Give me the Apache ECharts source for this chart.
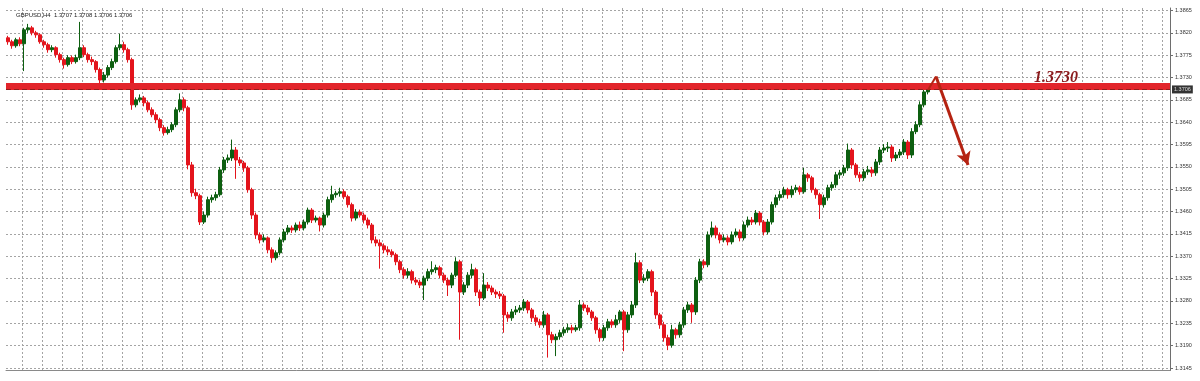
<!DOCTYPE html>
<html><head><meta charset="utf-8">
<script src="https://cdn.jsdelivr.net/npm/echarts@6/dist/echarts.min.js"></script>
<style>html,body{margin:0;padding:0;background:#fff}#chart{width:1200px;height:381px}</style>
</head><body><div id="chart"></div>
<script>
const header = 'GBPUSD,H4  1.3707 1.3708 1.3706 1.3706';
const priceTicks = [1.3145,1.3190,1.3235,1.3280,1.3325,1.3370,1.3415,1.3460,1.3505,1.3550,1.3595,1.3640,1.3685,1.3730,1.3775,1.3820,1.3865];
const opens = [1.3810,1.3802,1.3794,1.3806,1.3798,1.3826,1.3830,1.3820,1.3816,1.3802,
1.3796,1.3786,1.3790,1.3776,1.3766,1.3756,1.3770,1.3762,1.3770,1.3790,
1.3776,1.3766,1.3762,1.3746,1.3725,1.3735,1.3750,1.3762,1.3790,1.3796,
1.3786,1.3766,1.3675,1.3685,1.3689,1.3679,1.3665,1.3655,1.3645,1.3629,
1.3619,1.3625,1.3635,1.3665,1.3685,1.3669,1.3554,1.3498,1.3492,1.3439,
1.3453,1.3484,1.3488,1.3494,1.3544,1.3564,1.3568,1.3584,1.3564,1.3558,
1.3548,1.3504,1.3453,1.3413,1.3403,1.3407,1.3383,1.3367,1.3377,1.3403,
1.3419,1.3427,1.3423,1.3433,1.3427,1.3439,1.3463,1.3443,1.3447,1.3433,
1.3453,1.3484,1.3494,1.3497,1.3500,1.3490,1.3474,1.3447,1.3459,1.3453,
1.3443,1.3433,1.3403,1.3397,1.3391,1.3383,1.3379,1.3373,1.3359,1.3343,
1.3332,1.3339,1.3322,1.3318,1.3312,1.3326,1.3339,1.3343,1.3347,1.3332,
1.3322,1.3312,1.3332,1.3359,1.3298,1.3312,1.3332,1.3343,1.3298,1.3286,
1.3312,1.3306,1.3298,1.3294,1.3290,1.3252,1.3246,1.3258,1.3262,1.3266,
1.3278,1.3262,1.3246,1.3238,1.3232,1.3252,1.3212,1.3202,1.3208,1.3216,
1.3222,1.3226,1.3222,1.3226,1.3272,1.3266,1.3258,1.3246,1.3222,1.3206,
1.3226,1.3238,1.3232,1.3242,1.3258,1.3222,1.3252,1.3272,1.3357,1.3322,
1.3326,1.3339,1.3298,1.3252,1.3232,1.3206,1.3191,1.3222,1.3212,1.3232,
1.3262,1.3272,1.3258,1.3322,1.3359,1.3353,1.3413,1.3427,1.3413,1.3403,
1.3407,1.3399,1.3413,1.3419,1.3407,1.3433,1.3443,1.3439,1.3457,1.3439,
1.3419,1.3439,1.3474,1.3488,1.3494,1.3504,1.3494,1.3504,1.3508,1.3500,
1.3534,1.3528,1.3504,1.3494,1.3474,1.3488,1.3508,1.3514,1.3534,1.3538,
1.3548,1.3584,1.3554,1.3534,1.3528,1.3540,1.3544,1.3538,1.3560,1.3584,
1.3588,1.3590,1.3568,1.3574,1.3580,1.3600,1.3574,1.3621,1.3635,1.3675,
1.3701];
const highs = [1.3814,1.3806,1.3810,1.3811,1.3830,1.3838,1.3834,1.3824,1.3819,1.3806,
1.3800,1.3795,1.3793,1.3780,1.3770,1.3775,1.3774,1.3776,1.3842,1.3795,
1.3780,1.3772,1.3765,1.3750,1.3741,1.3755,1.3768,1.3795,1.3818,1.3802,
1.3790,1.3770,1.3690,1.3696,1.3693,1.3683,1.3670,1.3660,1.3649,1.3634,
1.3631,1.3640,1.3670,1.3698,1.3690,1.3673,1.3560,1.3506,1.3496,1.3460,
1.3490,1.3494,1.3500,1.3550,1.3570,1.3575,1.3605,1.3590,1.3570,1.3562,
1.3552,1.3508,1.3458,1.3418,1.3414,1.3410,1.3388,1.3382,1.3408,1.3425,
1.3433,1.3432,1.3438,1.3440,1.3444,1.3468,1.3467,1.3452,1.3450,1.3458,
1.3490,1.3512,1.3502,1.3508,1.3505,1.3494,1.3478,1.3465,1.3464,1.3458,
1.3448,1.3437,1.3410,1.3404,1.3396,1.3390,1.3384,1.3377,1.3363,1.3348,
1.3346,1.3343,1.3328,1.3323,1.3331,1.3345,1.3360,1.3353,1.3351,1.3337,
1.3327,1.3337,1.3368,1.3363,1.3318,1.3338,1.3355,1.3347,1.3303,1.3336,
1.3318,1.3311,1.3303,1.3300,1.3294,1.3258,1.3264,1.3270,1.3272,1.3284,
1.3282,1.3266,1.3252,1.3244,1.3260,1.3256,1.3218,1.3214,1.3222,1.3228,
1.3234,1.3232,1.3232,1.3282,1.3277,1.3272,1.3262,1.3250,1.3226,1.3232,
1.3244,1.3243,1.3252,1.3262,1.3262,1.3258,1.3280,1.3377,1.3362,1.3334,
1.3344,1.3343,1.3302,1.3256,1.3238,1.3212,1.3232,1.3226,1.3238,1.3268,
1.3278,1.3276,1.3328,1.3365,1.3364,1.3420,1.3440,1.3432,1.3418,1.3414,
1.3412,1.3420,1.3426,1.3424,1.3440,1.3450,1.3449,1.3463,1.3461,1.3443,
1.3445,1.3480,1.3494,1.3502,1.3510,1.3508,1.3512,1.3514,1.3512,1.3548,
1.3538,1.3532,1.3508,1.3498,1.3494,1.3514,1.3520,1.3540,1.3544,1.3554,
1.3597,1.3588,1.3558,1.3540,1.3546,1.3552,1.3550,1.3566,1.3590,1.3596,
1.3600,1.3594,1.3580,1.3586,1.3606,1.3604,1.3628,1.3642,1.3682,1.3712,
1.3710];
const lows = [1.3796,1.3788,1.3790,1.3793,1.3743,1.3820,1.3815,1.3810,1.3798,1.3790,
1.3780,1.3781,1.3770,1.3760,1.3748,1.3752,1.3757,1.3758,1.3765,1.3771,
1.3760,1.3755,1.3740,1.3718,1.3720,1.3730,1.3745,1.3758,1.3785,1.3780,
1.3760,1.3665,1.3670,1.3680,1.3672,1.3660,1.3650,1.3638,1.3622,1.3613,
1.3615,1.3620,1.3630,1.3660,1.3662,1.3545,1.3490,1.3485,1.3433,1.3435,
1.3448,1.3478,1.3482,1.3490,1.3538,1.3558,1.3562,1.3526,1.3552,1.3540,
1.3498,1.3445,1.3405,1.3396,1.3398,1.3376,1.3357,1.3362,1.3372,1.3398,
1.3414,1.3417,1.3418,1.3421,1.3422,1.3434,1.3437,1.3438,1.3420,1.3428,
1.3448,1.3478,1.3488,1.3490,1.3485,1.3468,1.3440,1.3442,1.3448,1.3436,
1.3426,1.3396,1.3390,1.3345,1.3376,1.3372,1.3368,1.3352,1.3336,1.3325,
1.3326,1.3315,1.3312,1.3306,1.3282,1.3320,1.3333,1.3336,1.3326,1.3316,
1.3290,1.3306,1.3328,1.3202,1.3292,1.3306,1.3326,1.3290,1.3270,1.3282,
1.3300,1.3292,1.3286,1.3284,1.3216,1.3238,1.3240,1.3252,1.3256,1.3260,
1.3255,1.3238,1.3230,1.3226,1.3226,1.3166,1.3195,1.3169,1.3202,1.3210,
1.3216,1.3215,1.3218,1.3220,1.3260,1.3252,1.3240,1.3214,1.3198,1.3200,
1.3220,1.3226,1.3226,1.3236,1.3179,1.3216,1.3246,1.3266,1.3316,1.3316,
1.3320,1.3290,1.3244,1.3224,1.3198,1.3181,1.3186,1.3204,1.3206,1.3226,
1.3256,1.3236,1.3252,1.3316,1.3346,1.3348,1.3408,1.3406,1.3396,1.3398,
1.3392,1.3394,1.3408,1.3400,1.3402,1.3428,1.3433,1.3434,1.3432,1.3412,
1.3414,1.3434,1.3468,1.3482,1.3488,1.3486,1.3488,1.3498,1.3494,1.3496,
1.3520,1.3498,1.3486,1.3445,1.3468,1.3482,1.3502,1.3508,1.3526,1.3532,
1.3542,1.3546,1.3528,1.3520,1.3522,1.3534,1.3530,1.3532,1.3554,1.3578,
1.3580,1.3560,1.3562,1.3568,1.3574,1.3566,1.3568,1.3616,1.3630,1.3670,
1.3696];
const closes = [1.3802,1.3794,1.3806,1.3798,1.3826,1.3830,1.3820,1.3816,1.3802,1.3796,
1.3786,1.3790,1.3776,1.3766,1.3756,1.3770,1.3762,1.3770,1.3790,1.3776,
1.3766,1.3762,1.3746,1.3725,1.3735,1.3750,1.3762,1.3790,1.3796,1.3786,
1.3766,1.3675,1.3685,1.3689,1.3679,1.3665,1.3655,1.3645,1.3629,1.3619,
1.3625,1.3635,1.3665,1.3685,1.3669,1.3554,1.3498,1.3492,1.3439,1.3453,
1.3484,1.3488,1.3494,1.3544,1.3564,1.3568,1.3584,1.3564,1.3558,1.3548,
1.3504,1.3453,1.3413,1.3403,1.3407,1.3383,1.3367,1.3377,1.3403,1.3419,
1.3427,1.3423,1.3433,1.3427,1.3439,1.3463,1.3443,1.3447,1.3433,1.3453,
1.3484,1.3494,1.3497,1.3500,1.3490,1.3474,1.3447,1.3459,1.3453,1.3443,
1.3433,1.3403,1.3397,1.3391,1.3383,1.3379,1.3373,1.3359,1.3343,1.3332,
1.3339,1.3322,1.3318,1.3312,1.3326,1.3339,1.3343,1.3347,1.3332,1.3322,
1.3312,1.3332,1.3359,1.3298,1.3312,1.3332,1.3343,1.3298,1.3286,1.3312,
1.3306,1.3298,1.3294,1.3290,1.3252,1.3246,1.3258,1.3262,1.3266,1.3278,
1.3262,1.3246,1.3238,1.3232,1.3252,1.3212,1.3202,1.3208,1.3216,1.3222,
1.3226,1.3222,1.3226,1.3272,1.3266,1.3258,1.3246,1.3222,1.3206,1.3226,
1.3238,1.3232,1.3242,1.3258,1.3222,1.3252,1.3272,1.3357,1.3322,1.3326,
1.3339,1.3298,1.3252,1.3232,1.3206,1.3191,1.3222,1.3212,1.3232,1.3262,
1.3272,1.3258,1.3322,1.3359,1.3353,1.3413,1.3427,1.3413,1.3403,1.3407,
1.3399,1.3413,1.3419,1.3407,1.3433,1.3443,1.3439,1.3457,1.3439,1.3419,
1.3439,1.3474,1.3488,1.3494,1.3504,1.3494,1.3504,1.3508,1.3500,1.3534,
1.3528,1.3504,1.3494,1.3474,1.3488,1.3508,1.3514,1.3534,1.3538,1.3548,
1.3584,1.3554,1.3534,1.3528,1.3540,1.3544,1.3538,1.3560,1.3584,1.3588,
1.3590,1.3568,1.3574,1.3580,1.3600,1.3574,1.3621,1.3635,1.3675,1.3701,
1.3706];
const resistanceLevel = 1.3713;
const bidPrice = 1.3706;
const targetText = '1.3730';
const targetLevel = 1.3730;
const targetSlot = 262;
const arrowPoints = [[230, 1.3705], [232, 1.3732], [240, 1.3554]];
const slotCount = 291;

const slots = Array.from({length: slotCount}, (_, i) => String(i));
const candleData = closes.map((c, i) => [opens[i], c, lows[i], highs[i]]);

const chart = echarts.init(document.getElementById('chart'), null, {renderer: 'canvas'});
const axisFont = {fontFamily: 'Liberation Sans', fontSize: 5.5, color: '#333'};
chart.setOption({
  animation: false,
  backgroundColor: '#ffffff',
  title: {
    text: header, left: 11, top: 7,
    textStyle: {fontFamily: 'Liberation Sans', fontSize: 6, fontWeight: 'normal', color: '#222'}
  },
  grid: {left: 6, right: 30, top: 8, bottom: 10.5, containLabel: false},
  xAxis: {
    type: 'category', data: slots, boundaryGap: true,
    axisLine: {show: true, lineStyle: {color: '#8a8a8a', width: 1}},
    axisTick: {show: false}, axisLabel: {show: false},
    splitLine: {show: true, interval: (i) => i % 5 === 4,
      lineStyle: {color: '#a4a4a4', width: 1, type: [2, 2]}}
  },
  yAxis: {
    type: 'value', position: 'right', min: 1.3140, max: 1.3870, scale: true,
    axisLine: {show: true, lineStyle: {color: '#6e6e6e', width: 1}},
    axisTick: {show: true, length: 3, customValues: priceTicks, lineStyle: {color: '#6e6e6e'}},
    axisLabel: {show: true, customValues: priceTicks, margin: 5,
      formatter: (v) => Number(v).toFixed(4), ...axisFont},
    splitLine: {show: true, lineStyle: {color: '#a4a4a4', width: 1, type: [2, 2]}}
  },
  series: [{
    type: 'candlestick',
    data: candleData,
    barWidth: 3,
    itemStyle: {color: '#0d5f10', color0: '#e3141c', borderColor: '#0d5f10', borderColor0: '#e3141c', borderWidth: 1},
    markLine: {
      silent: true, animation: false, precision: 4, symbol: ['none', 'none'],
      data: [
        {yAxis: resistanceLevel, lineStyle: {color: '#e2252b', width: 7, type: 'solid'}, label: {show: false}},
        {yAxis: bidPrice, lineStyle: {color: '#7a1c18', width: 1, type: [5, 3], opacity: 0.8},
          label: {show: true, position: 'end', distance: 2, formatter: bidPrice.toFixed(4),
            backgroundColor: '#000', color: '#fff', padding: [1, 2], fontFamily: 'Liberation Sans', fontSize: 5.5}},
        [
          {coord: arrowPoints[0], symbol: 'none', lineStyle: {color: '#b52312', width: 2, type: 'solid'}},
          {coord: arrowPoints[1], symbol: 'none'}
        ],
        [
          {coord: arrowPoints[1], symbol: 'none', lineStyle: {color: '#b52312', width: 3, type: 'solid'}},
          {coord: arrowPoints[2], symbol: 'arrow', symbolSize: [11, 13]}
        ]
      ].map(d => Array.isArray(d) ? d.map(p => Object.assign({label: {show: false}}, p)) : d)
    },
    markPoint: {
      silent: true, animation: false,
      data: [{coord: [targetSlot, targetLevel], symbol: 'circle', symbolSize: 0,
        label: {show: true, position: 'inside', formatter: targetText,
          fontFamily: 'Liberation Serif', fontStyle: 'italic', fontWeight: 'bold', fontSize: 16, color: '#8a1a1c'}}]
    }
  }]
});
</script>
</body></html>
